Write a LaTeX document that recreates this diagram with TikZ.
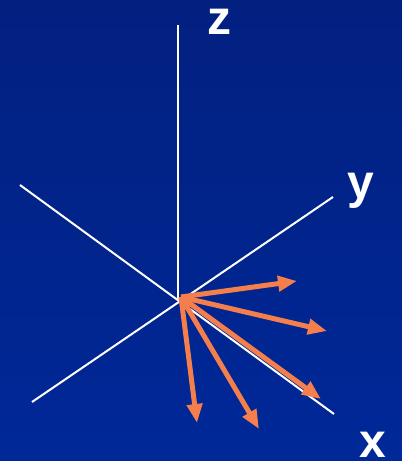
\documentclass[tikz,border=0pt]{standalone}
\usepackage{fontspec}
\setmainfont{Liberation Sans}
\usepackage{xcolor}
\usetikzlibrary{arrows.meta,positioning}
\definecolor{bgtop}{RGB}{2,32,128}
\definecolor{bgbot}{RGB}{0,40,152}
\definecolor{vecorange}{RGB}{244,126,76}

\begin{document}
\begin{tikzpicture}[x=1pt, y=-1pt, >=Stealth,
    axis/.style={white, line width=2pt},
    vec/.style={vecorange, line width=5pt, -{Triangle[length=19pt, width=15pt]}},
    axislabel/.style={white, font=\fontsize{48}{48}\bfseries\selectfont, anchor=base, inner sep=0pt}]
    % Background
    \shade[top color=bgtop, bottom color=bgbot] (0,0) rectangle (402,461);
    \useasboundingbox (0,0) rectangle (402,461);

    % Origin and axis ends
    \coordinate (O) at (178,300);
    \coordinate (Ztop) at (178,25);
    \coordinate (Yend) at (333,197);
    \coordinate (Yneg) at (32,402);
    \coordinate (Xend) at (334,414);
    \coordinate (Xneg) at (20,185);

    % Draw the axes
    \draw[axis] (O) -- (Ztop);
    \draw[axis] (Yneg) -- (Yend);
    \draw[axis] (Xneg) -- (Xend);

    % Label the axes
    \node[axislabel] (zlab) at (219,34) {z};
    \node[axislabel] (ylab) at (361,198) {y};
    \node[axislabel] (xlab) at (373,457) {x};

    % Vectors from near the origin
    \coordinate (S) at (181,297);
    \coordinate (V1) at (297,281);
    \coordinate (V2) at (327,331);
    \coordinate (V3) at (321,399);
    \coordinate (V4) at (259,429);
    \coordinate (V5) at (197,423);
    \foreach \v in {V1,V2,V3,V4,V5}
        \draw[vec] (S) -- (\v);
\end{tikzpicture}
\end{document}
